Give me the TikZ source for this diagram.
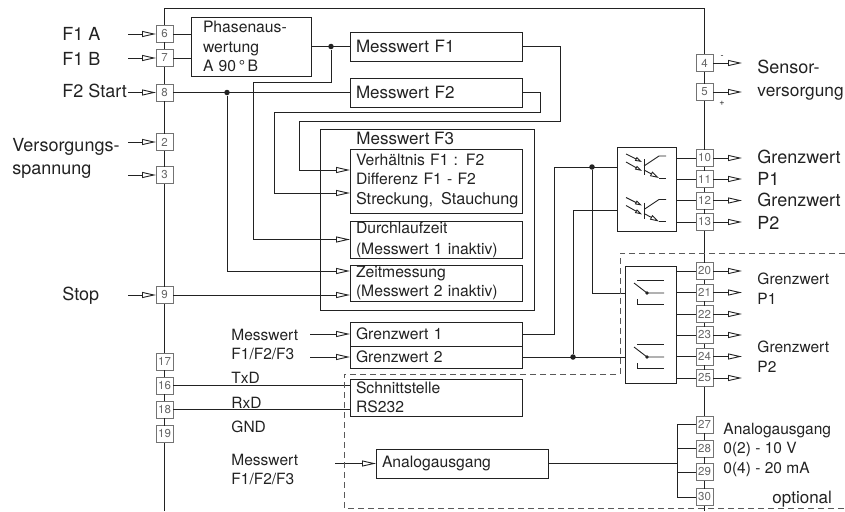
\documentclass[tikz,border=0pt]{standalone}
\usepackage{fontspec}
\setmainfont{TeX Gyre Heros}
\usetikzlibrary{arrows.meta}
\usetikzlibrary{positioning}
\definecolor{ink}{HTML}{222222}
\tikzset{
  opto/.pic={
    \draw[-{Triangle[open,length=7pt,width=4pt]}] (-18,-12)--(-2,-4);
    \draw[-{Triangle[open,length=7pt,width=4pt]}] (-18,-4)--(-2,5);
    \draw (0,-7)--(0,9);
    \draw (0,0)--(15,-10)--(22,-10);
    \draw[-{Triangle[open,length=9pt,width=5pt]}] (0,4)--(15,12);
    \draw (15,12)--(22,12);
  },
  relay/.pic={
    \draw (-13,-10)--(0,0)--(17,0);
    \fill (0,0) circle (1.8);
    \draw (-10,-13)--(17,-13);
    \draw (-10,6)--(-10,11)--(17,11);
  }
}
\begin{document}
\begin{tikzpicture}[x=1pt,y=-1pt,line width=0.9pt,color=ink,
          box/.style={draw,anchor=north west,align=left,inner xsep=6,inner ysep=0,text width=160,outer sep=0,font=\fontsize{15.7}{19.5}\selectfont},
          term/.style={draw=gray!90!black,line width=1pt,minimum size=17,inner sep=0,outer sep=0,text=gray!80!black,font=\fontsize{11.5}{12}\selectfont},
          lbl/.style={anchor=west,inner sep=0,text height=13,text depth=0,font=\fontsize{18}{20}\selectfont},
          lbls/.style={anchor=west,inner sep=0,text height=11,text depth=0,font=\fontsize{15.5}{18}\selectfont},
          dot/.style={circle,fill=ink,inner sep=0,minimum size=5.5},
          inarr/.style={-{Triangle[open,length=14pt,width=6pt]}},
          bord/.style={draw,anchor=north west,outer sep=0}]
  \useasboundingbox (0,0) rectangle (845,511);
  % terminals left
  \node[term](t6) at (164.5,34){6};
  \node[term](t7) at (164.5,58){7};
  \node[term](t8) at (164.5,92.5){8};
  \node[term](t2) at (164.5,142){2};
  \node[term](t3) at (164.5,175){3};
  \node[term](t9) at (164.5,295){9};
  \node[term](t17) at (164.5,361.5){17};
  \node[term](t16) at (164.5,385.5){16};
  \node[term](t18) at (164.5,409.5){18};
  \node[term](t19) at (164.5,434){19};
  % terminals right
  \node[term](t4) at (704.5,63){4};
  \node[term](t5) at (704.5,92){5};
  \node[term](t10) at (704.5,158){10};
  \node[term](t11) at (704.5,179){11};
  \node[term](t12) at (704.5,200.5){12};
  \node[term](t13) at (704.5,222){13};
  \node[term](t20) at (704.5,271){20};
  \node[term](t21) at (704.5,292.5){21};
  \node[term](t22) at (704.5,314){22};
  \node[term](t23) at (704.5,335){23};
  \node[term](t24) at (704.5,356.5){24};
  \node[term](t25) at (704.5,378){25};
  \node[term](t27) at (704.5,424.5){27};
  \node[term](t28) at (704.5,448.5){28};
  \node[term](t29) at (704.5,472){29};
  \node[term](t30) at (704.5,497){30};
  % housing
  \coordinate (topl) at (164.5,8); \coordinate (topr) at (704.5,8);
  \coordinate (botl) at (164.5,511); \coordinate (botr) at (704.5,511);
  \draw (botl)--(t19)--(t18)--(t16)--(t17)--(t9)--(t3)--(t2)--(t8)--(t7)--(t6)--(topl)--(topr)--(t4)--(t5)--(t10)--(t11)--(t12)--(t13)--(t20)--(t21)--(t22)--(t23)--(t24)--(t25)--(t27)--(t28)--(t29)--(t30)--(botr);
  % boxes
  \node[box,text width=96,inner xsep=12,minimum height=59](phasen) at (191,17){Phasenaus-\\wertung\\A 90\,°\,B};
  \node[box,minimum height=29,font=\fontsize{17}{19}\selectfont](mf1) at (350,32){Messwert F1};
  \node[box,minimum height=29,font=\fontsize{17}{19}\selectfont](mf2) at (350,78){Messwert F2};
  \node[bord,minimum width=214,minimum height=181](mf3) at (320,129){};
  \node[lbl,font=\fontsize{17}{19}\selectfont](mf3t) at (356,138){Messwert F3};
  \node[box,minimum height=64](verh) at (350,149){Verhältnis F1 : F2\\Differenz F1 - F2\\\mbox{\fontsize{16.2}{19.5}\selectfont Streckung,\,\ Stauchung}};
  \node[box,minimum height=37](durch) at (350,221){Durchlaufzeit\\[1.5pt](Messwert 1 inaktiv)};
  \node[box,minimum height=36](zeit) at (350,265){Zeitmessung\\(Messwert 2 inaktiv)};
  \node[box,minimum height=24](grenza) at (350,322){Grenzwert 1};
  \node[box,minimum height=22](grenzb) at (350,346){Grenzwert 2};
  \node[box,minimum height=37](schnitt) at (350,379){Schnittstelle\\RS232};
  \node[box,minimum height=29](analog) at (376,449){Analogausgang};
  \node[bord,minimum width=59,minimum height=84](optobox) at (617,147){};
  \node[bord,minimum width=51,minimum height=117](relbox) at (625,266){};
  \pic at (644,166){opto};
  \pic at (644,209.5){opto};
  \pic at (647,293){relay};
  \pic at (647,357){relay};
  % texts left
  \node[lbl](lf1a) at (62,34){F1 A};
  \node[lbl](lf1b) at (62,59){F1 B};
  \node[lbl](lf2) at (62,91){F2 Start};
  \node[lbl](lver) at (12,145){Versorgungs-};
  \node[lbl](lspa) at (12,168){spannung};
  \node[lbl](lstop) at (62,294){Stop};
  \node[lbls](lmw) at (231,335){Messwert};
  \node[lbls](lmwf) at (231,354){F1/F2/F3};
  \node[lbls](ltx) at (231,378){TxD};
  \node[lbls](lrx) at (231,403){RxD};
  \node[lbls](lgnd) at (231,427){GND};
  \node[lbls](lmwb) at (231,460){Messwert};
  \node[lbls](lmwfb) at (231,479){F1/F2/F3};
  % texts right
  \node[lbl](lsen) at (757,67){Sensor-};
  \node[lbl,font=\fontsize{17.3}{20}\selectfont](lvso) at (757,90){versorgung};
  \node[lbl](lg1) at (757,157){Grenzwert};
  \node[lbl](lp1) at (757,179){P1};
  \node[lbl](lg2) at (757,200){Grenzwert};
  \node[lbl](lp2) at (757,223){P2};
  \node[lbls](lg3) at (757,279){Grenzwert};
  \node[lbls](lp3) at (757,299){P1};
  \node[lbls](lg4) at (757,347){Grenzwert};
  \node[lbls](lp4) at (757,367){P2};
  \node[lbls](laa) at (723,429){Analogausgang};
  \node[lbls](la10) at (723,448){0(2) - 10 V};
  \node[lbls](la20) at (723,468){0(4) - 20 mA};
  \node[lbl,font=\fontsize{17}{19}\selectfont](lopt) at (772,496.5){optional};
  \node[inner sep=0,font=\fontsize{9}{9}\selectfont](lminus) at (722,57){-};
  \node[inner sep=0,font=\fontsize{9}{9}\selectfont](lplus) at (722,103){+};
  % inputs
  \coordinate (i6) at (128,34); \coordinate (i7) at (128,58); \coordinate (i8) at (128,92.5);
  \coordinate (i2) at (128,142); \coordinate (i3) at (128,175); \coordinate (i9) at (128,295);
  \draw[inarr](i6)--(t6); \draw[inarr](i7)--(t7); \draw[inarr](i8)--(t8);
  \draw[inarr](i2)--(t2); \draw[inarr](i3)--(t3); \draw[inarr](i9)--(t9);
  \draw(t6)--(t6-|phasen.west); \draw(t7)--(t7-|phasen.west);
  \draw(t8)--(mf2.west); \draw[inarr](t9)--(t9-|zeit.west);
  \draw(t16)--(t16-|schnitt.west); \draw(t18)--(t18-|schnitt.west);
  % signal paths
  \node[dot](j1) at (331,46.5){}; \node[dot](j2) at (227,92.5){};
  \coordinate (b1) at (253,82); \coordinate (b2) at (560,121); \coordinate (b3) at (299,121);
  \coordinate (b4) at (540,112); \coordinate (b5) at (274,112);
  \coordinate (verin1) at (350,170); \coordinate (verin2) at (350,193); \coordinate (zeitin) at (350,271);
  \draw(phasen.east)--(mf1.west);
  \draw[inarr](j1)|-(b1)|-(durch.west);
  \draw[inarr](j2)|-(zeitin);
  \draw[inarr](mf1.east)-|(b2)--(b3)|-(verin1);
  \draw[inarr](mf2.east)-|(b4)--(b5)|-(verin2);
  \coordinate (mwa) at (310,334); \coordinate (mwb) at (310,357); \coordinate (mwc) at (335,463.5);
  \draw[inarr](mwa)--(grenza.west); \draw[inarr](mwb)--(grenzb.west); \draw[inarr](mwc)--(analog.west);
  % limit outputs
  \coordinate (b6) at (554,167); \coordinate (optoa) at (617,167); \coordinate (optob) at (617,210);
  \coordinate (rela) at (625,293); \coordinate (relb) at (625,357);
  \node[dot](j3) at (592,167){}; \node[dot](j4) at (573,357){};
  \draw(grenza.east)-|(b6)--(optoa);
  \draw(j3)|-(rela);
  \draw(grenzb.east)--(relb);
  \draw(j4)|-(optob);
  \draw(t10)--(t10-|optobox.east); \draw(t11)--(t11-|optobox.east);
  \draw(t12)--(t12-|optobox.east); \draw(t13)--(t13-|optobox.east);
  \draw(t20)--(t20-|relbox.east); \draw(t21)--(t21-|relbox.east); \draw(t22)--(t22-|relbox.east);
  \draw(t23)--(t23-|relbox.east); \draw(t24)--(t24-|relbox.east); \draw(t25)--(t25-|relbox.east);
  % outputs
  \coordinate (o4) at (742,63); \coordinate (o5) at (742,92);
  \draw[inarr](t4)--(o4); \draw[inarr](t5)--(o5);
  \coordinate (o10) at (742,158); \coordinate (o11) at (742,179); \coordinate (o12) at (742,200.5); \coordinate (o13) at (742,222);
  \draw[inarr](t10)--(o10); \draw[inarr](t11)--(o11); \draw[inarr](t12)--(o12); \draw[inarr](t13)--(o13);
  \coordinate (o20) at (742,271); \coordinate (o21) at (742,292.5); \coordinate (o22) at (742,314);
  \coordinate (o23) at (742,335); \coordinate (o24) at (742,356.5); \coordinate (o25) at (742,378);
  \draw[inarr](t20)--(o20); \draw[inarr](t21)--(o21); \draw[inarr](t22)--(o22);
  \draw[inarr](t23)--(o23); \draw[inarr](t24)--(o24); \draw[inarr](t25)--(o25);
  % analog bus
  \coordinate (abus) at (677,463.5);
  \draw(analog.east)--(abus);
  \draw(t27)-|(abus)|-(t30);
  \draw(t28)--(t28-|abus); \draw(t29)--(t29-|abus);
  % optional part
  \coordinate (d1) at (845,253); \coordinate (d2) at (620,253); \coordinate (d3) at (620,374);
  \coordinate (d4) at (344,374); \coordinate (d5) at (344,508); \coordinate (d6) at (845,508);
  \draw[gray!70!black,dash pattern=on 6pt off 4pt](d1)--(d2)--(d3)--(d4)--(d5)--(d6);
\end{tikzpicture}
\end{document}
